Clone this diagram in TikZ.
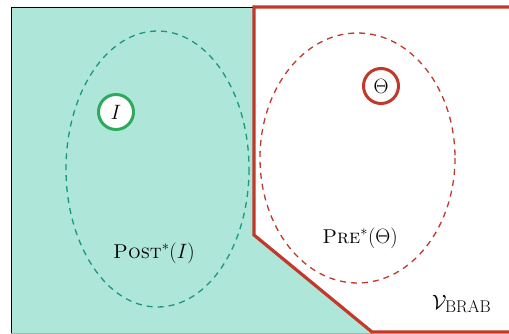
\documentclass[tikz,border=0pt]{standalone}
\usepackage{amsmath}
\definecolor{tealfill}{HTML}{AEE6DA}
\definecolor{darkred}{HTML}{C0392B}
\definecolor{dgreen}{HTML}{17997A}
\definecolor{cgreen}{HTML}{2EAA5C}
\tikzset{
  setellipse/.style={line width=1.3pt, dash pattern=on 6pt off 5pt},
  statecirc/.style={circle, fill=white, line width=3pt, minimum size=35pt, inner sep=0pt},
  lbl/.style={font=\fontsize{20}{24}\selectfont, inner sep=0pt}
}
\begin{document}
\begin{tikzpicture}[x=1pt,y=-1pt]
\useasboundingbox (0,0) rectangle (509,334);
% teal region
\fill[tealfill] (11,7) -- (254,7) -- (254,235) -- (372,334) -- (11,334) -- cycle;
\draw[black, line width=0.8pt] (11,334) -- (11,7) -- (254,7);
\draw[gray!60, line width=0.6pt] (11,333.5) -- (372,333.5);
% red boundary
\draw[darkred, line width=3.2pt, line join=miter] (509,7) -- (254,7) -- (254,235) -- (372,332) -- (509,332);
% ellipses
\draw[dgreen, setellipse] (157.5,169) ellipse [x radius=91.5, y radius=138];
\draw[darkred, setellipse] (357.5,158) ellipse [x radius=97.5, y radius=125];
% state circles
\node[statecirc, draw=cgreen] (init) at (116,112) {\fontsize{20}{24}\selectfont$I$};
\node[statecirc, draw=darkred] (theta) at (381,86) {\fontsize{20}{24}\selectfont$\Theta$};
% labels
\node[lbl] (post) at (154,253) {\textsc{Post}$^*(I)$};
\node[lbl] (pre) at (360,238) {\textsc{Pre}$^*(\Theta)$};
\node[lbl, anchor=base west] (vbrab) at (432,309) {$\mathcal{V}$\kern-1.5pt\raisebox{-3pt}{\fontsize{17}{20}\selectfont BRAB}};
\end{tikzpicture}
\end{document}
